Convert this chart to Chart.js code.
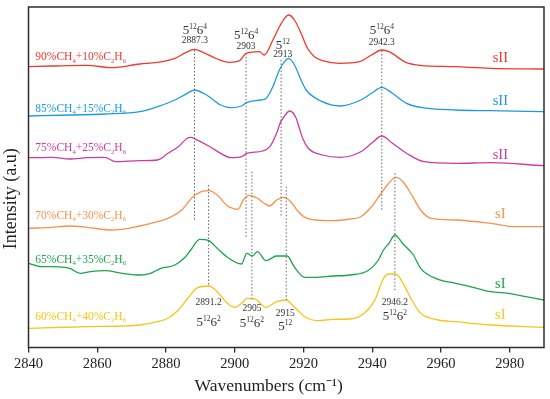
<!DOCTYPE html>
<html><head><meta charset="utf-8">
<script src="https://cdn.jsdelivr.net/npm/chart.js@4/dist/chart.umd.min.js"></script>
<style>html,body{margin:0;padding:0;background:#fff;}#wrap{width:550px;height:399px;}</style>
</head><body><div id="wrap"><canvas id="c" width="550" height="399"></canvas></div>
<script>
// ---- data ----
const tickValues = [2840,2860,2880,2900,2920,2940,2960,2980];

const wn90 = [2840,2846.9,2857.1,2864.2,2872.4,2877.5,2882.6,2885.7,2888.3,2890.8,2894.9,2898.4,2901.4,2903.3,2907.2,2908.6,2911.1,2913,2914.5,2915.7,2917.4,2919.3,2921.2,2923.2,2925.6,2930.5,2936.3,2939.8,2942.8,2944.9,2950,2954.1,2964.3,2974.5,2990];
const int90 = [280.8,281.5,282.2,279.8,283.5,285.2,289.2,294.8,298.2,295.2,288.5,285.2,286.8,294.2,295.8,292.5,307.5,320.8,329.2,332.5,327.5,314.2,299.2,290.8,286.8,284.2,285.8,292.5,297.5,295.8,284.8,282.2,280.8,279.2,278.5];

const wn85 = [2840,2852,2862.2,2872.4,2877.5,2882.6,2885.7,2888.3,2891.8,2895.9,2899,2902,2903.5,2907.6,2909.1,2911.1,2913,2914.5,2915.7,2917.4,2919.3,2920.8,2925.5,2930.6,2936.7,2939.8,2942.8,2945.9,2950,2954.1,2964.3,2974.5,2990];
const int85 = [231.5,232.5,233.5,235.8,240.8,247.5,253.2,257.5,252.5,242.5,239.8,241.5,244.8,247.5,249,260.8,277.5,285.8,289.2,282.5,267.5,257.5,245.8,241.5,247.5,254.2,260.2,254.2,244.2,240.2,237.5,236.8,235.8];

const wn75 = [2840,2846.9,2852,2857.1,2862.2,2865.3,2872.4,2877.5,2880.6,2883.6,2886.2,2887.2,2888.7,2892.8,2895.9,2899,2902,2903.5,2908.1,2910.2,2912.2,2913.2,2914.4,2916,2917.8,2918.8,2919.8,2921.4,2925.5,2930.6,2936.7,2939.8,2942.8,2945.9,2950,2955.1,2964.3,2974.5,2990];
const int75 = [189.8,190.2,188.5,189.8,190.2,185.8,186.8,187.5,194.2,200.8,209.2,210.2,208.2,200.8,194.2,189.8,190.8,194.2,196.5,200.8,214.2,224.2,231,236.5,230,219.5,209,199.2,192.5,190.2,195.8,204.2,211.5,204.2,194.2,185.8,184.2,184.8,181.8];

const wn70 = [2840,2846.9,2852,2857.1,2864.2,2872.4,2877.5,2880.6,2884.6,2887.7,2890.3,2892.5,2894.9,2897.9,2899.4,2901,2902.5,2904.2,2906.6,2908.6,2910.2,2912.2,2914.3,2916.3,2918.3,2920.4,2923.4,2928.5,2933.6,2936.7,2939.8,2942.3,2944.4,2946.9,2949,2951.5,2954.1,2957.1,2964.3,2974.5,2981.6,2990];
const int70 = [119.2,120.2,121.5,120.2,117.5,121.5,125.8,129.2,137.5,150.2,155.8,156.8,152.5,141.5,139.2,138.2,147.5,152.2,149.2,144.2,141.5,147.5,150.2,145.8,136.8,130.2,127.5,126.8,128.5,130.8,140.8,152.5,162.5,170.2,165.8,152.5,137.5,129.2,127.5,124.2,120.8,120.8];

const wn65 = [2840,2843.8,2846.9,2852,2855,2858.1,2862.2,2867.3,2872.4,2875.5,2878.5,2882.6,2885.7,2887.2,2889.8,2892.5,2894.9,2897.9,2902,2903.5,2905.1,2906.6,2909.1,2912.2,2915.3,2917.3,2920.4,2923.4,2928.5,2933.6,2938.7,2941.8,2943.3,2944.9,2946.6,2949,2952,2954.1,2959.2,2964.3,2969.4,2974.5,2979.6,2984.7,2990];
const int65 = [84.2,80.8,80.8,79.2,74.2,75.8,76.8,74.2,72.5,74.2,79.2,82.5,90.8,97.5,108.2,106.8,99.2,90.2,83.5,94.2,91.5,95.8,86.8,91.5,91.5,80.8,70.2,70.2,71.5,72.5,76.8,87.5,97.5,104.2,112.5,103.5,92.5,79.2,68.2,64.2,60.2,55.8,54.2,50.8,47.5];

const wn60 = [2840,2846.9,2857.1,2867.3,2872.4,2877.5,2880.6,2883.6,2886.7,2889.2,2892.5,2894.9,2897.9,2900,2902,2903.5,2906.1,2909.1,2912.2,2914.8,2917.3,2920.4,2924.5,2928.5,2933.6,2937.7,2940.8,2943.3,2944.9,2946.9,2949,2951.5,2954.1,2959.2,2964.3,2974.5,2984.7,2990];
const int60 = [19.2,19.8,20.8,21.5,22.5,25.8,29.2,37.5,50.8,59.8,61.5,55.8,44.2,40.2,44.2,49.2,48.2,40.2,45.8,47.5,40.8,30.8,26.8,28.2,28.5,34.2,47.5,69.2,73.5,73.5,64.2,47.5,34.2,27.5,25.8,22.5,20.8,20.2];

const seriesNames = ['90%CH_4+10%C_2H_6','85%CH_4+15%C_2H_6','75%CH_4+25%C_2H_6','70%CH_4+30%C_2H_6','65%CH_4+35%C_2H_6','60%CH_4+40%C_2H_6'];
const phaseNames = ['sII','sII','sII','sI','sI','sI'];

// peak marker dotted lines
const markerWn = [2888.3,2903.3,2913.5,2942.8,2892.4,2905,2915,2946.6];
const markerTop = [297.5,294.2,287.5,296.8,162.5,175.8,160.8,174.2];
const markerBottom = [127.5,109.2,130.8,137.5,60.8,47.5,47.5,55.8];

// peak annotation texts
const noteWn = [2888.4,2903.3,2914,2942.8,2892.4,2905,2914.7,2946.6];
const noteCage = ['5^{12}6^{4}','5^{12}6^{4}','5^{12}','5^{12}6^{4}','5^{12}6^{2}','5^{12}6^{2}','5^{12}','5^{12}6^{2}'];
const noteNum = ['2887.3','2903','2913','2942.3','2891.2','2905','2915','2946.2'];

const xTitle = 'Wavenumbers (cm\u207B\u00B9)';
const yTitle = 'Intensity (a.u)';

// ---- styling / placement ----
const colors = ['#f2382d','#1d9be0','#cf3a9e','#f8914d','#1ba44c','#f4c61a'];
const cageY = [317.5,313.2,302.5,317.5,25.8,24.5,21.8,31.5];
const numY  = [307.5,301.8,293.2,305.2,45.2,39.2,34.2,45.8];
const seriesLabelPos = {wn:2842, y:[290.8,239.2,199.8,132.5,88.5,31]};
const phaseLabelPos = {wn:2977.3, y:[290.2,247.5,193.2,134.2,64.2,33.5]};
const FONT = '"Liberation Serif","Times New Roman",serif';

function pts(w, v){ return w.map((x,i)=>({x:x, y:v[i]})); }
const seriesData = [[wn90,int90],[wn85,int85],[wn75,int75],[wn70,int70],[wn65,int65],[wn60,int60]];

const datasets = [];
markerWn.forEach((w,i)=>{
  datasets.push({data:[{x:w,y:markerTop[i]},{x:w,y:markerBottom[i]}], borderColor:'#666', borderWidth:1, borderDash:[1.5,2], pointRadius:0, fill:false});
});
seriesData.forEach((s,i)=>{
  datasets.push({label:seriesNames[i], data:pts(s[0],s[1]), borderColor:colors[i], borderWidth:1.3, pointRadius:0, fill:false, cubicInterpolationMode:'monotone'});
});

function drawRich(ctx, str, x, y, size, color, align){
  const re = /([_^])\{([^}]*)\}|([_^])(.)|([^_^]+)/g;
  const segs = []; let m;
  while((m = re.exec(str))){
    if(m[1]) segs.push({t:m[2],k:m[1]});
    else if(m[3]) segs.push({t:m[4],k:m[3]});
    else segs.push({t:m[5],k:''});
  }
  const small = size*0.58;
  let total = 0;
  segs.forEach(s=>{ ctx.font = (s.k?small:size)+'px '+FONT; s.w = ctx.measureText(s.t).width; total += s.w; });
  let cx = align==='left'? x : (align==='right'? x-total : x-total/2);
  ctx.fillStyle = color; ctx.textAlign='left'; ctx.textBaseline='alphabetic';
  const base = y + size*0.33;
  segs.forEach(s=>{
    ctx.font = (s.k?small:size)+'px '+FONT;
    let yy = base;
    if(s.k==='^') yy = base - size*0.38;
    if(s.k==='_') yy = base + size*0.18;
    ctx.fillText(s.t, cx, yy); cx += s.w;
  });
}

const textPlugin = {
  id:'texts',
  afterDatasetsDraw(chart){
    const ctx = chart.ctx, xs = chart.scales.x, ys = chart.scales.y;
    ctx.save();
    noteWn.forEach((w,i)=>{
      const px = xs.getPixelForValue(w);
      drawRich(ctx, noteCage[i], px, ys.getPixelForValue(cageY[i]), 13, '#333', 'center');
      drawRich(ctx, noteNum[i], px, ys.getPixelForValue(numY[i]), 9.5, '#333', 'center');
    });
    seriesNames.forEach((n,i)=>{
      drawRich(ctx, n, xs.getPixelForValue(seriesLabelPos.wn), ys.getPixelForValue(seriesLabelPos.y[i]), 11.5, colors[i], 'left');
      drawRich(ctx, phaseNames[i], xs.getPixelForValue(phaseLabelPos.wn), ys.getPixelForValue(phaseLabelPos.y[i]), 14.5, colors[i], 'center');
    });
    ctx.restore();
  },
  afterDraw(chart){
    const {ctx, chartArea:a} = chart;
    ctx.save(); ctx.strokeStyle='#332a2a'; ctx.lineWidth=1.5;
    ctx.strokeRect(a.left, a.top, a.right-a.left, a.bottom-a.top);
    // axis titles
    ctx.fillStyle='#222'; ctx.textAlign='center'; ctx.textBaseline='middle';
    ctx.font = '17.5px '+FONT;
    ctx.fillText(xTitle, a.left + (a.right-a.left)*0.466, chart.height - 12.5);
    ctx.translate(11.5, a.top + (a.bottom-a.top)*0.563);
    ctx.rotate(-Math.PI/2);
    ctx.font = '18px '+FONT;
    ctx.fillText(yTitle, 0, 0);
    ctx.restore();
  }
};

new Chart(document.getElementById('c'), {
  type:'line',
  data:{datasets:datasets},
  options:{
    responsive:false, animation:false, devicePixelRatio:1,
    layout:{padding:{top:7,right:6,left:0,bottom:0}},
    plugins:{legend:{display:false}, tooltip:{enabled:false}},
    scales:{
      x:{type:'linear', min:2840, max:2990,
        afterBuildTicks(s){ s.ticks = tickValues.map(v=>({value:v})); },
        afterFit(s){ s.height = 51.5; },
        ticks:{font:{family:FONT,size:14.5}, color:'#222', padding:3, maxRotation:0, callback:v=>String(v)},
        grid:{display:true, drawOnChartArea:false, drawTicks:true, tickLength:5, color:'#332a2a', lineWidth:1.3},
        border:{display:false},
        title:{display:false}
      },
      y:{type:'linear', min:0, max:340.5,
        afterFit(s){ s.width = 28.5; },
        ticks:{display:false}, grid:{display:false}, border:{display:false},
        title:{display:false}
      }
    }
  },
  plugins:[textPlugin]
});
</script></body></html>
